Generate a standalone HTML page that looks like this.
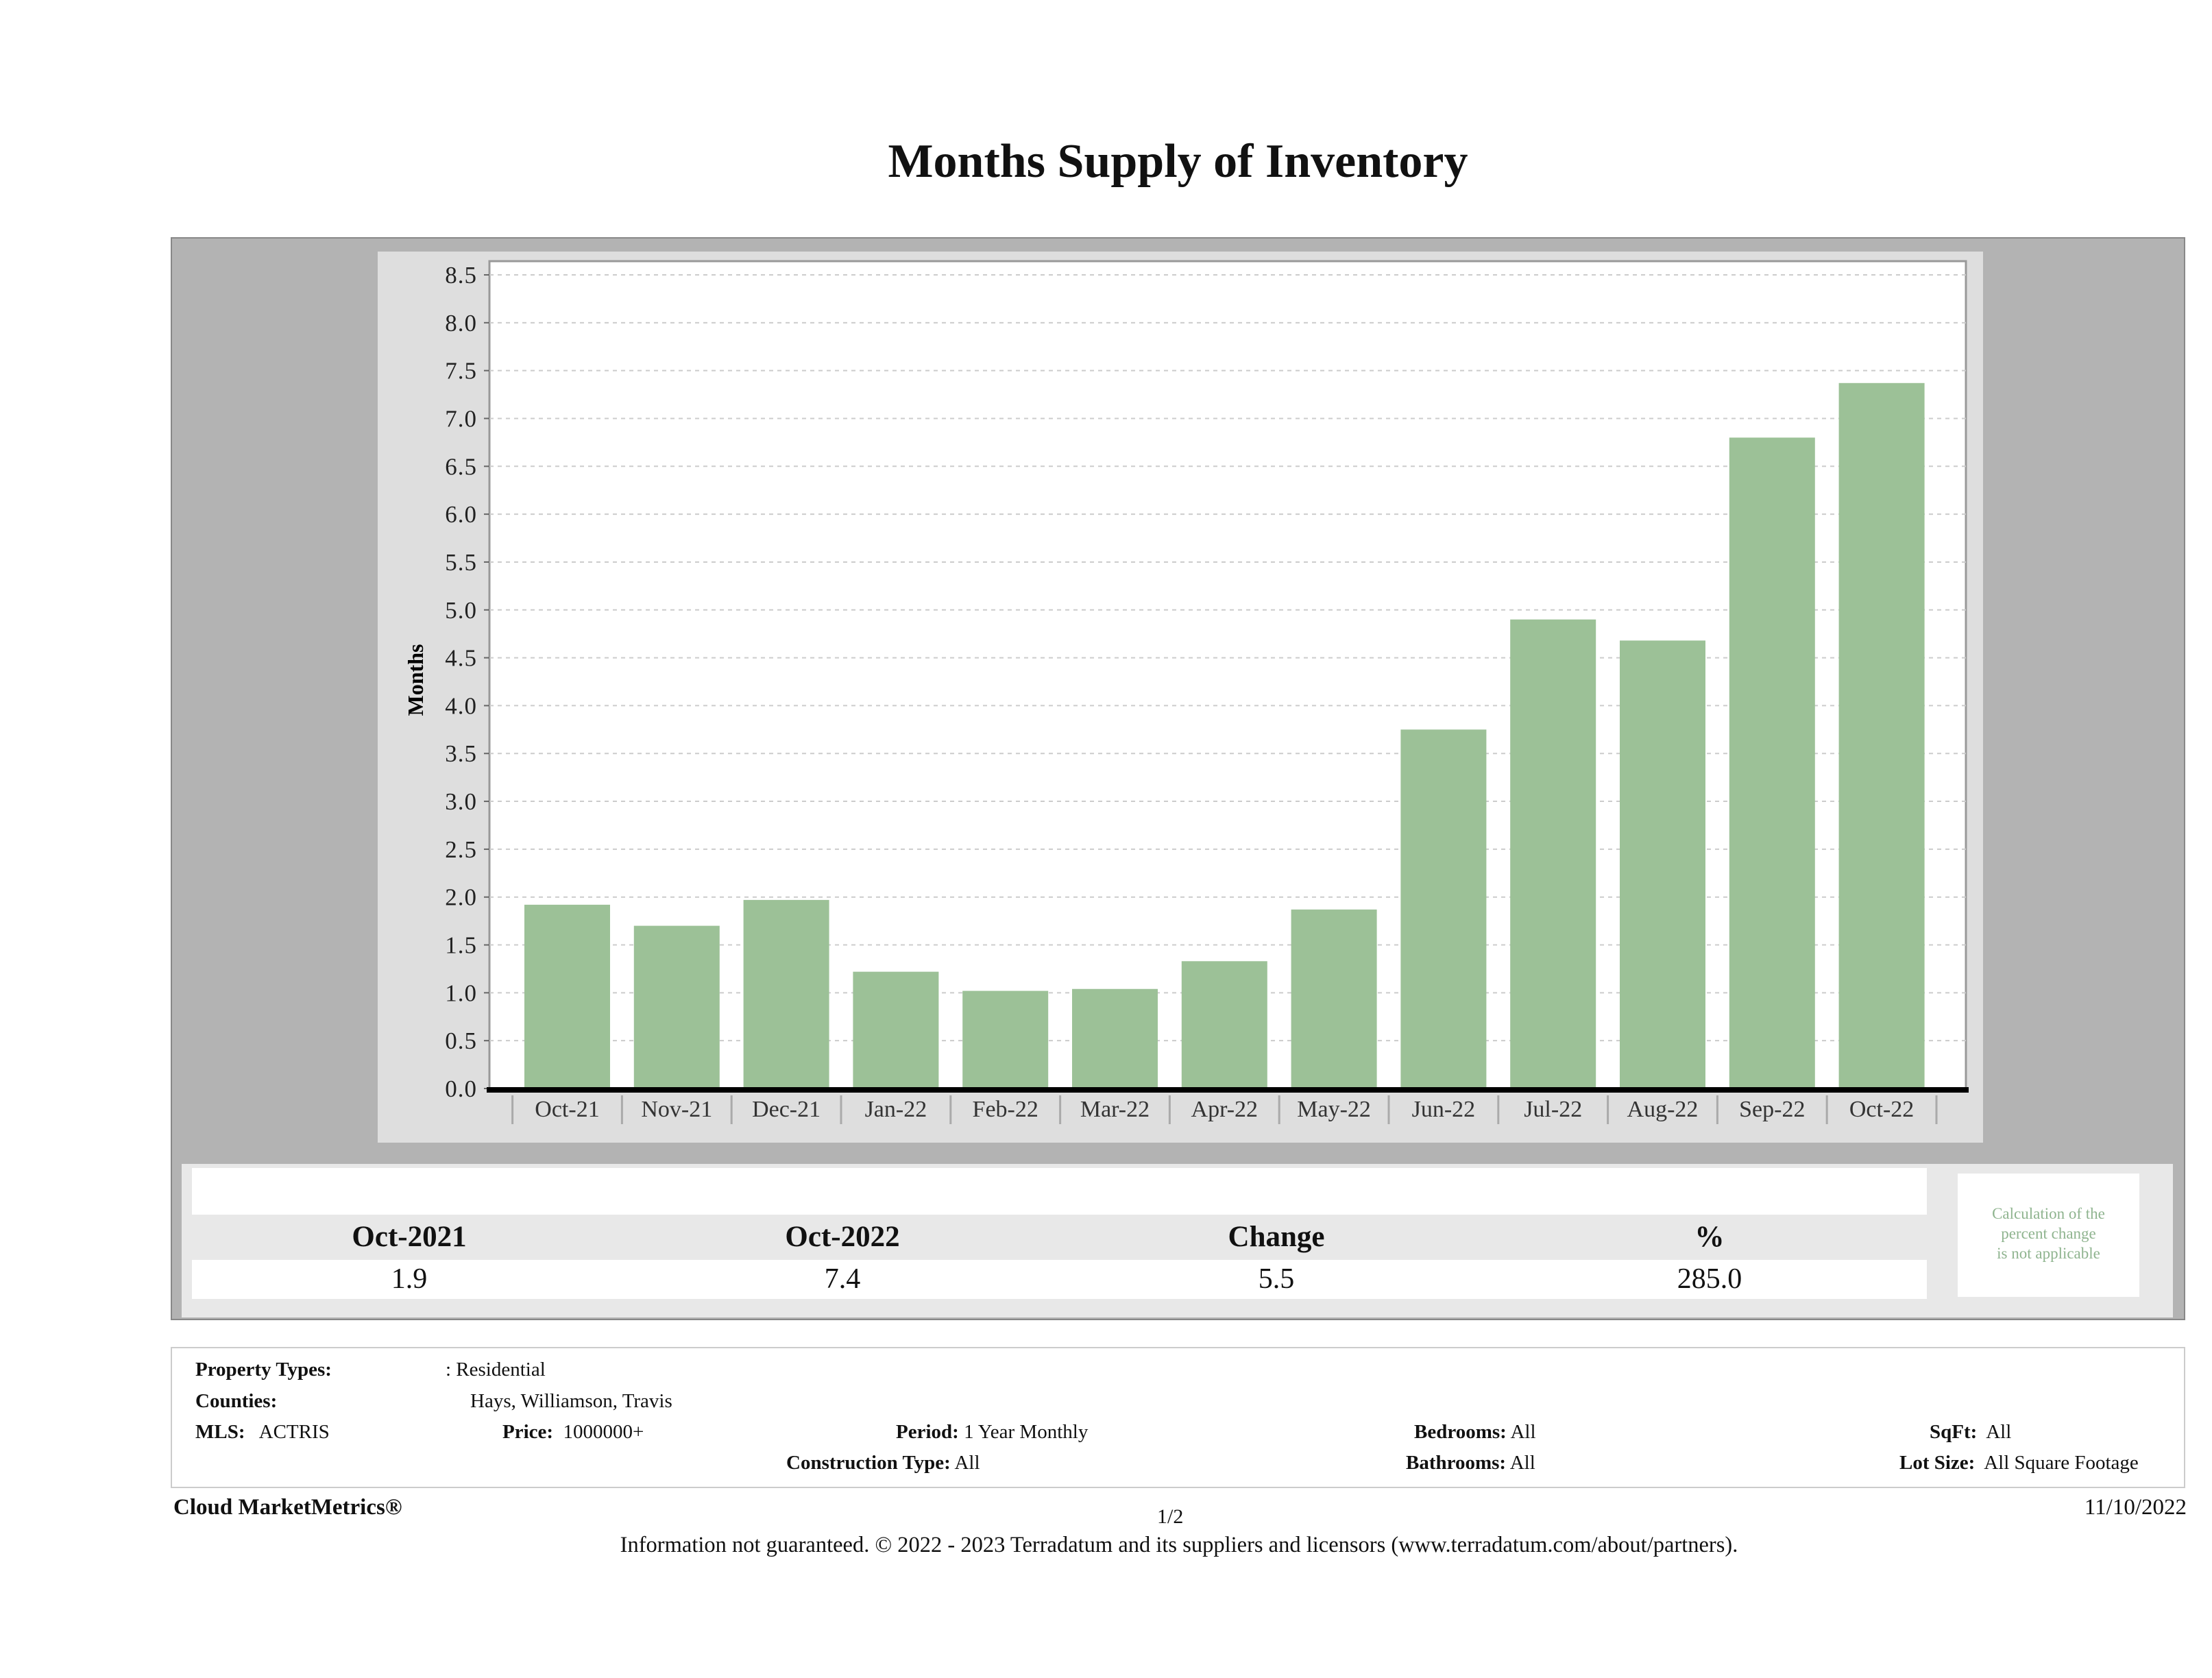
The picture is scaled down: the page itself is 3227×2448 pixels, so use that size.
<!DOCTYPE html>
<html><head><meta charset="utf-8"><style>
body{margin:0;background:#fff;}
#page{position:relative;width:3227px;height:2448px;overflow:hidden;background:#fff;font-family:"Liberation Serif",serif;color:#111;}
.abs{position:absolute;}
.b{font-weight:bold;}
.info{font-size:29px;position:absolute;white-space:nowrap;}
</style></head><body>
<div id="page">
<div class="abs b" style="left:0;width:3437px;top:196px;text-align:center;font-size:70px;">Months Supply of Inventory</div>
<div class="abs" style="left:249px;top:346px;width:2935px;height:1576px;background:#b3b3b3;border:2px solid #888;"></div>
<div class="abs" style="left:551px;top:367px;width:2342px;height:1300px;background:#dedede;"></div>
<svg class="abs" style="left:0;top:0" width="3227" height="2448" id="chart"></svg>

<div class="abs" style="left:265px;top:1698px;width:2905px;height:224px;background:#e8e8e8;"></div>
<div class="abs" style="left:280px;top:1704px;width:2531px;height:68px;background:#fff;"></div>
<div class="abs" style="left:280px;top:1838px;width:2531px;height:57px;background:#fff;"></div>
<div class="abs" style="left:2856px;top:1712px;width:265px;height:180px;background:#fff;"></div>
<div class="abs" style="left:2856px;top:1756px;width:265px;text-align:center;font-size:23px;line-height:29px;color:#8fb48f;">Calculation of the<br>percent change<br>is not applicable</div>
<div id="summary"></div>

<div class="abs" style="left:249px;top:1965px;width:2935px;height:202px;border:2px solid #ccc;"></div>
<div class="info b" style="left:285px;top:1982px;">Property Types:</div>
<div class="info" style="left:650px;top:1982px;">: Residential</div>
<div class="info b" style="left:285px;top:2028px;">Counties:</div>
<div class="info" style="left:686px;top:2028px;">Hays, Williamson, Travis</div>
<div class="info" style="left:285px;top:2073px;"><b>MLS:</b>&nbsp;&nbsp; ACTRIS</div>
<div class="info" style="left:733px;top:2073px;"><b>Price:</b>&nbsp; 1000000+</div>
<div class="info" style="left:1307px;top:2073px;"><b>Period:</b> 1 Year Monthly</div>
<div class="info" style="left:2063px;top:2073px;"><b>Bedrooms:</b> All</div>
<div class="info" style="left:2815px;top:2073px;"><b>SqFt:</b>&nbsp; All</div>
<div class="info" style="left:1147px;top:2118px;"><b>Construction Type:</b> All</div>
<div class="info" style="left:2051px;top:2118px;"><b>Bathrooms:</b> All</div>
<div class="info" style="left:2771px;top:2118px;"><b>Lot Size:</b>&nbsp; All Square Footage</div>

<div class="info b" style="left:253px;top:2181px;font-size:33px;">Cloud MarketMetrics®</div>
<div class="info" style="left:1688px;top:2196px;font-size:30px;">1/2</div>
<div class="info" style="right:37px;top:2181px;font-size:33px;">11/10/2022</div>
<div class="info" style="left:0;width:3440px;text-align:center;top:2236px;font-size:32.5px;">Information not guaranteed. © 2022 - 2023 Terradatum and its suppliers and licensors (www.terradatum.com/about/partners).</div>
</div>
<script>
const categories=["Oct-21","Nov-21","Dec-21","Jan-22","Feb-22","Mar-22","Apr-22","May-22","Jun-22","Jul-22","Aug-22","Sep-22","Oct-22"];
const values=[1.92,1.70,1.97,1.22,1.02,1.04,1.33,1.87,3.75,4.90,4.68,6.80,7.37];
const yTicks=["0.0","0.5","1.0","1.5","2.0","2.5","3.0","3.5","4.0","4.5","5.0","5.5","6.0","6.5","7.0","7.5","8.0","8.5"];
const summaryHeaders=["Oct-2021","Oct-2022","Change","%"];
const summaryValues=["1.9","7.4","5.5","285.0"];

const NS="http://www.w3.org/2000/svg";
const svg=document.getElementById('chart');
const L=714,R=2868,T=381,B=1588,TOP8=401;
const pitch=159.8,x0=765,bw=125;
function y(v){return B-(v/8.5)*(B-TOP8);}
function xs(i){return x0+i*pitch;}
function el(t,a){const e=document.createElementNS(NS,t);for(const k in a)e.setAttribute(k,a[k]);svg.appendChild(e);return e;}
let e=el('rect',{x:L,y:T,width:R-L,height:B-T,fill:'#fff',stroke:'#999','stroke-width':3});

yTicks.forEach(t=>{const v=parseFloat(t),yy=y(v);
 let g=el('line',{x1:L,x2:R,y1:yy,y2:yy,stroke:'#ccc','stroke-width':2,'stroke-dasharray':'6,6'});
 
 let k=el('line',{x1:L-8,x2:L,y1:yy,y2:yy,stroke:'#666','stroke-width':2});
 
 let tx=el('text',{x:L-18,y:yy+12,'text-anchor':'end','font-size':35,'font-family':'Liberation Serif,serif',fill:'#222','letter-spacing':1});tx.textContent=t;
 
});
values.forEach((v,i)=>{
 let r=el('rect',{x:xs(i),y:y(v),width:bw,height:B-y(v),fill:'#9cc197'});
 
 let tx=el('text',{x:xs(i)+bw/2,y:1629,'text-anchor':'middle','font-size':34,'font-family':'Liberation Serif,serif',fill:'#333'});tx.textContent=categories[i];
 
});
for(let i=0;i<=categories.length;i++){
 let s=el('line',{x1:xs(i)-(pitch-bw)/2,x2:xs(i)-(pitch-bw)/2,y1:B+10,y2:1640,stroke:'#aaa','stroke-width':3});
 }
e=el('line',{x1:L-4,x2:R+4,y1:B+2,y2:B+2,stroke:'#000','stroke-width':8});

e=el('text',{x:0,y:0,'text-anchor':'middle','font-size':32,'font-weight':'bold','font-family':'Liberation Serif,serif',transform:'translate(617,992) rotate(-90)'});e.textContent='Months';


const sum=document.getElementById('summary');
const cx=[597,1229,1862,2494];
summaryHeaders.forEach((h,i)=>{
 const d=document.createElement('div');d.className='abs b';d.textContent=h;
 
 d.style.cssText=`left:${cx[i]-250}px;width:500px;text-align:center;top:1780px;font-size:43px;`;sum.appendChild(d);
 const v=document.createElement('div');v.className='abs';v.textContent=summaryValues[i];
 
 v.style.cssText=`left:${cx[i]-250}px;width:500px;text-align:center;top:1842px;font-size:42px;`;sum.appendChild(v);
});
</script>
</body></html>
